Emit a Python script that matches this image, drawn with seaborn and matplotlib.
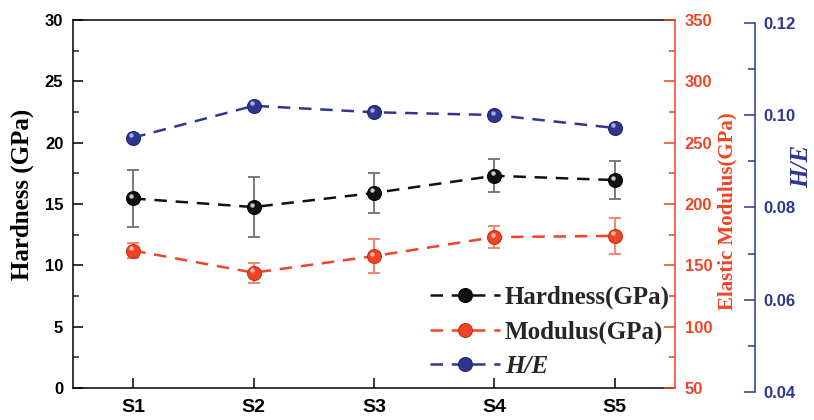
import numpy as np
import pandas as pd
import seaborn as sns
import matplotlib
matplotlib.use("Agg")
import matplotlib.pyplot as plt
from matplotlib.ticker import MultipleLocator
from matplotlib.transforms import offset_copy
from matplotlib.font_manager import FontProperties

# ---- data ----
samples = ["S1", "S2", "S3", "S4", "S5"]
hardness = [15.45, 14.75, 15.9, 17.3, 16.95]
hardness_err = [2.3, 2.45, 1.6, 1.35, 1.55]
modulus = [162, 144, 157.5, 173, 174]
modulus_err = [6, 8, 14, 9, 14.5]
h_over_e = [0.0951, 0.1020, 0.1006, 0.1000, 0.0972]
legend_labels = ["Hardness(GPa)", "Modulus(GPa)", "H/E"]

RED = "#EF4527"
BLUE = "#2E3790"
BLACK = "#111111"

df = pd.DataFrame({
    "sample": samples,
    "pos": np.arange(len(samples)),
    "hardness": hardness,
    "hardness_err": hardness_err,
    "modulus": modulus,
    "modulus_err": modulus_err,
    "he": h_over_e,
})

sns.set_theme(style="ticks")
plt.rcParams["font.family"] = ["Liberation Sans", "DejaVu Sans"]
plt.rcParams["font.weight"] = "bold"

W, H = 814, 420
fig = plt.figure(figsize=(W / 100, H / 100), dpi=100)
fig.patch.set_facecolor("white")
L, R, T, B = 73, 675, 20, 388
ax = fig.add_axes([L / W, 1 - B / H, (R - L) / W, (B - T) / H])
ax2 = ax.twinx()
ax3 = fig.add_axes([L / W, 1 - 392 / H, (R - L) / W, (392 - 22.7) / H], sharex=ax)
ax3.patch.set_alpha(0)

dash = (0, (5, 3.5))
common = dict(marker="o", markersize=10, linewidth=1.8, linestyle=dash, markeredgewidth=0.8)

# Hardness
ax.errorbar(df["pos"], df["hardness"], yerr=df["hardness_err"], fmt="none",
            ecolor="#707070", elinewidth=1.3, capsize=4, capthick=1.3, zorder=1.5)
sns.lineplot(data=df, x="pos", y="hardness", ax=ax, color=BLACK,
             markeredgecolor="#000000", **common)
l1 = ax.lines[-1]
ax.plot(df["pos"], df["hardness"], "o", ms=3.2, color="#c8c8c8", mec="none", zorder=3,
        transform=offset_copy(ax.transData, fig=fig, x=-1.3, y=1.8, units="points"))

# Modulus
ax2.errorbar(df["pos"], df["modulus"], yerr=df["modulus_err"], fmt="none",
             ecolor="#F37A66", elinewidth=1.3, capsize=4, capthick=1.3, zorder=1.5)
sns.lineplot(data=df, x="pos", y="modulus", ax=ax2, color=RED,
             markeredgecolor="#C92E14", **common)
l2 = ax2.lines[-1]
ax2.plot(df["pos"], df["modulus"], "o", ms=3.2, color="#FFB8AA", mec="none", zorder=3,
         transform=offset_copy(ax2.transData, fig=fig, x=-1.3, y=1.8, units="points"))

# H/E
sns.lineplot(data=df, x="pos", y="he", ax=ax3, color=BLUE,
             markeredgecolor="#1E2670", **common)
l3 = ax3.lines[-1]
ax3.plot(df["pos"], df["he"], "o", ms=3.2, color="#A5ACE0", mec="none", zorder=3,
         transform=offset_copy(ax3.transData, fig=fig, x=-1.3, y=1.8, units="points"))

# limits & ticks
ax.set_xlim(-0.5, len(samples) - 0.5)
ax.set_ylim(0, 30)
ax2.set_ylim(50, 350)
ax3.set_ylim(0.04, 0.12)
ax.set_xticks(df["pos"])
ax.set_xticklabels(samples)
ax.yaxis.set_major_locator(MultipleLocator(5))
ax.yaxis.set_minor_locator(MultipleLocator(2.5))
ax2.yaxis.set_major_locator(MultipleLocator(50))
ax2.yaxis.set_minor_locator(MultipleLocator(25))
ax3.yaxis.set_major_locator(MultipleLocator(0.02))
ax3.yaxis.set_minor_locator(MultipleLocator(0.01))
ax3.yaxis.set_major_formatter(matplotlib.ticker.FormatStrFormatter("%.2f"))

for a in (ax, ax2, ax3):
    a.set_xlabel("")
    a.set_ylabel("")

ax.tick_params(axis="y", which="major", direction="in", length=7, width=1.1,
               labelsize=12, pad=7, left=True, right=False, colors="black")
ax.tick_params(axis="y", which="minor", direction="in", length=4, width=1.1, left=True, right=False)
ax.tick_params(axis="x", which="major", direction="in", length=7, width=1.1,
               labelsize=14, pad=8, bottom=True, top=False, colors="black")

ax2.tick_params(axis="y", which="major", direction="in", length=8, width=1.1,
                labelsize=12, pad=7, colors=RED, right=True, left=False)
ax2.tick_params(axis="y", which="minor", direction="in", length=4, width=1.1,
                colors=RED, right=True, left=False)

ax3.yaxis.tick_right()
ax3.tick_params(axis="y", which="major", direction="in", length=8, width=1.1,
                labelsize=12, pad=6, colors=BLUE, right=True, left=False)
ax3.tick_params(axis="y", which="minor", direction="in", length=5, width=1.1,
                colors=BLUE, right=True, left=False)
ax3.tick_params(axis="x", bottom=False, labelbottom=False, top=False, labeltop=False)

for lab in ax.get_xticklabels() + ax.get_yticklabels() + ax2.get_yticklabels() + ax3.get_yticklabels():
    lab.set_fontweight("bold")
    lab.set_family(["Liberation Sans", "DejaVu Sans"])

# spines
for s in ("left", "top", "bottom"):
    ax.spines[s].set_color("black")
    ax.spines[s].set_linewidth(1.1)
ax.spines["right"].set_visible(False)
for s in ("left", "top", "bottom"):
    ax2.spines[s].set_visible(False)
ax2.spines["right"].set_color(RED)
ax2.spines["right"].set_linewidth(1.1)
for s in ("left", "top", "bottom"):
    ax3.spines[s].set_visible(False)
ax3.spines["right"].set_position(("axes", (755 - L) / (R - L)))
ax3.spines["right"].set_color(BLUE)
ax3.spines["right"].set_linewidth(1.1)

# axis titles
serif = ["Liberation Serif", "DejaVu Serif"]
fig.text(22 / W, 1 - 194 / H, "Hardness (GPa)", rotation=90, ha="center", va="center",
         fontsize=18, fontweight="bold", family=serif, color="black")
fig.text(727 / W, 1 - 211 / H, "Elastic Modulus(GPa)", rotation=90, ha="center", va="center",
         fontsize=15, fontweight="bold", family=serif, color=RED)
fig.text(802 / W, 1 - 166 / H, "H/E", rotation=90, ha="center", va="center",
         fontsize=18, fontweight="bold", style="italic", family=serif, color=BLUE)

# legend
leg = ax3.legend([l1, l2, l3], legend_labels, loc="lower right",
                 bbox_to_anchor=(670 / W, 1 - 378 / H), bbox_transform=fig.transFigure,
                 frameon=False, prop=FontProperties(family=serif, weight="bold", size=18),
                 handlelength=2.8, handletextpad=0.2, labelspacing=0.45, borderaxespad=0,
                 borderpad=0, numpoints=1)
leg.get_texts()[2].set_style("italic")

fig.savefig("out.png", dpi=100)
